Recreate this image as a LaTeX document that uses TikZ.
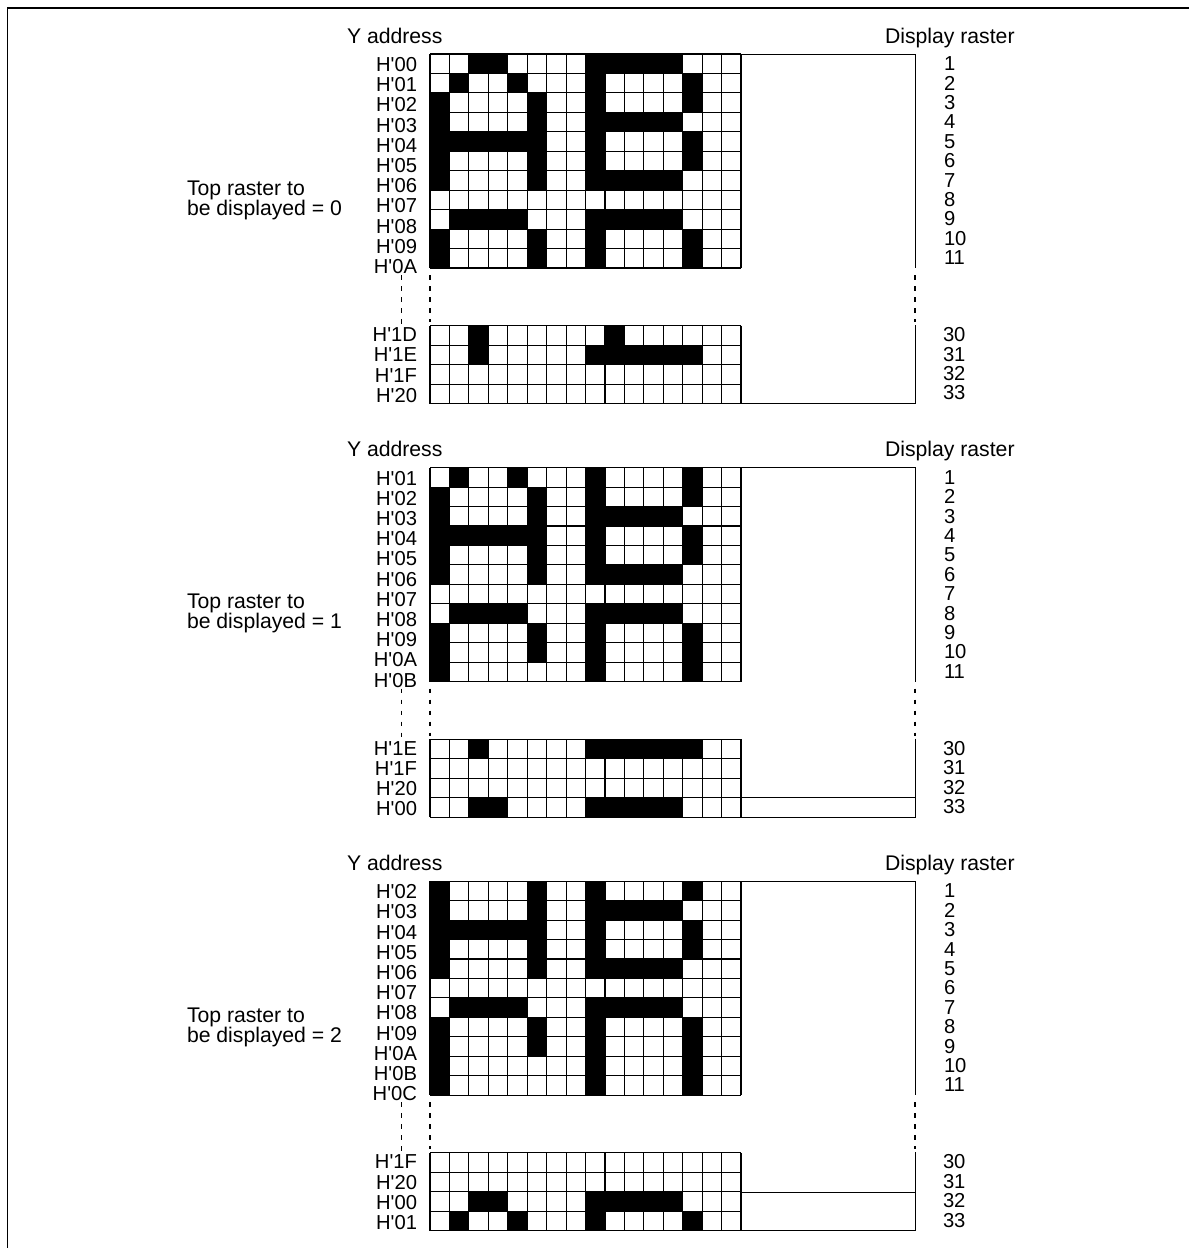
\documentclass[tikz,border=0pt]{standalone}
\usepackage{fontspec}
\newfontfamily\arialfont{Liberation Sans}
\tikzset{
  x=1pt,y=-1pt,
  txt/.style={inner sep=0pt,outer sep=0pt,font=\arialfont\fontsize{20.2}{21}\selectfont},
  addrlabel/.style={txt,anchor=base east},
  rasterlabel/.style={txt,anchor=base west},
  plainlabel/.style={inner sep=0pt,outer sep=0pt,anchor=base west,font=\arialfont\fontsize{21.2}{22}\selectfont},
  gridline/.style={black,line width=1.1pt},
  framerule/.style={black,line width=1pt},
  gapline/.style={black,line width=1.1pt,dash pattern=on 4.5pt off 6.5pt},
  cellfill/.style={fill=black},
  pageframe/.style={black,line width=1.2pt}
}
% glyph rows (columns that are black)
\def\rA{2,3,8,9,10,11,12}
\def\rB{1,4,8,13}
\def\rC{0,5,8,13}
\def\rD{0,5,8,9,10,11,12}
\def\rE{0,1,2,3,4,5,8,13}
\def\rN{99}
\def\rH{1,2,3,4,8,9,10,11,12}
\def\rK{0,8,13}
\def\rX{2,9}
\def\rY{2,8,9,10,11,12,13}
\newcommand{\gridrows}[2]{% top y, list of row macros
  \foreach \rw [count=\i from 0] in {#2}{%
    \edef\cols{\rw}%
    \foreach \c in \cols{%
      \ifnum\c<16
        \fill[cellfill] ({430+19.44*\c},{#1+19.45*\i}) rectangle ++(19.44,19.45);
      \fi
    }%
  }%
}
\newcommand{\gridlines}[2]{% top y, number of rows
  \foreach \c in {0,...,16}
    \draw[gridline] ({430+19.44*\c},#1) -- ({430+19.44*\c},{#1+19.45*#2});
  \foreach \r in {0,...,#2}
    \draw[gridline] (430,{#1+19.45*\r}) -- (741,{#1+19.45*\r});
}
\newcommand{\figblock}[7]{% id, y offset, top-raster value, upper labels, lower labels, upper rows, lower rows
  \begin{scope}[yshift=-#2pt]
    \node[plainlabel] (ya#1) at (347,43) {Y address};
    \node[plainlabel] (dr#1) at (885,43) {Display raster};
    \node[plainlabel] (tr#1a) at (187,195) {Top raster to};
    \node[plainlabel] (tr#1b) at (187,215) {be displayed = #3};
    \gridrows{54}{#6}
    \gridrows{325.7}{#7}
    \gridlines{54}{11}
    \gridlines{325.7}{4}
    \foreach \lab [count=\i from 0] in {#4}
      \node[addrlabel] (u#1n\i) at (417,{71.4+20.2*\i}) {\lab};
    \foreach \lab [count=\i from 0] in {#5}
      \node[addrlabel] (l#1n\i) at (417,{341.7+20.2*\i}) {\lab};
    \foreach \i in {1,...,11}
      \node[rasterlabel] (ru#1n\i) at (944,{70.7+19.4*(\i-1)}) {\i};
    \foreach \i in {30,...,33}
      \node[rasterlabel] (rl#1n\i) at (943,{341.7+19.4*(\i-30)}) {\i};
    % frame to the right of the grid
    \coordinate (ftl#1) at (741,54);
    \coordinate (ftr#1) at (915,54);
    \coordinate (fmr#1) at (915,268);
    \coordinate (fda#1) at (915,275);
    \coordinate (fdb#1) at (915,322);
    \coordinate (fnr#1) at (915,325);
    \coordinate (fbr#1) at (915,403.5);
    \coordinate (fbl#1) at (741,403.5);
    \draw[framerule] (ftl#1) -- (ftr#1) -- (fmr#1);
    \draw[gapline] (fda#1) -- (fdb#1);
    \draw[framerule] (fnr#1) -- (fbr#1) -- (fbl#1);
    % dashed gaps
    \coordinate (ga#1) at (430,275);
    \coordinate (gb#1) at (430,322);
    \coordinate (gc#1) at (401.5,275);
    \coordinate (gd#1) at (401.5,326);
    \draw[gapline] (ga#1) -- (gb#1);
    \draw[gapline] (gc#1) -- (gd#1);
  \end{scope}
}
\begin{document}
\begin{tikzpicture}
\useasboundingbox (0,0) rectangle (1189,1248);
\coordinate (pgTL) at (7.5,8);
\coordinate (pgTR) at (1189,8);
\coordinate (pgBL) at (7.5,1248);
\draw[pageframe] (pgTR) -- (pgTL) -- (pgBL);

\figblock{a}{0}{0}{H'00,H'01,H'02,H'03,H'04,H'05,H'06,H'07,H'08,H'09,H'0A}{H'1D,H'1E,H'1F,H'20}
  {\rA,\rB,\rC,\rD,\rE,\rC,\rD,\rN,\rH,\rC,\rC}{\rX,\rY,\rN,\rN}
\figblock{b}{413.6}{1}{H'01,H'02,H'03,H'04,H'05,H'06,H'07,H'08,H'09,H'0A,H'0B}{H'1E,H'1F,H'20,H'00}
  {\rB,\rC,\rD,\rE,\rC,\rD,\rN,\rH,\rC,\rC,\rK}{\rY,\rN,\rN,\rA}
\figblock{c}{827.2}{2}{H'02,H'03,H'04,H'05,H'06,H'07,H'08,H'09,H'0A,H'0B,H'0C}{H'1F,H'20,H'00,H'01}
  {\rC,\rD,\rE,\rC,\rD,\rN,\rH,\rC,\rC,\rK,\rK}{\rN,\rN,\rA,\rB}

\coordinate (xb1) at (741,797);
\coordinate (xb2) at (915,797);
\draw[framerule] (xb1) -- (xb2);
\coordinate (xc1) at (741,1192);
\coordinate (xc2) at (915,1192);
\draw[framerule] (xc1) -- (xc2);
\end{tikzpicture}
\end{document}
